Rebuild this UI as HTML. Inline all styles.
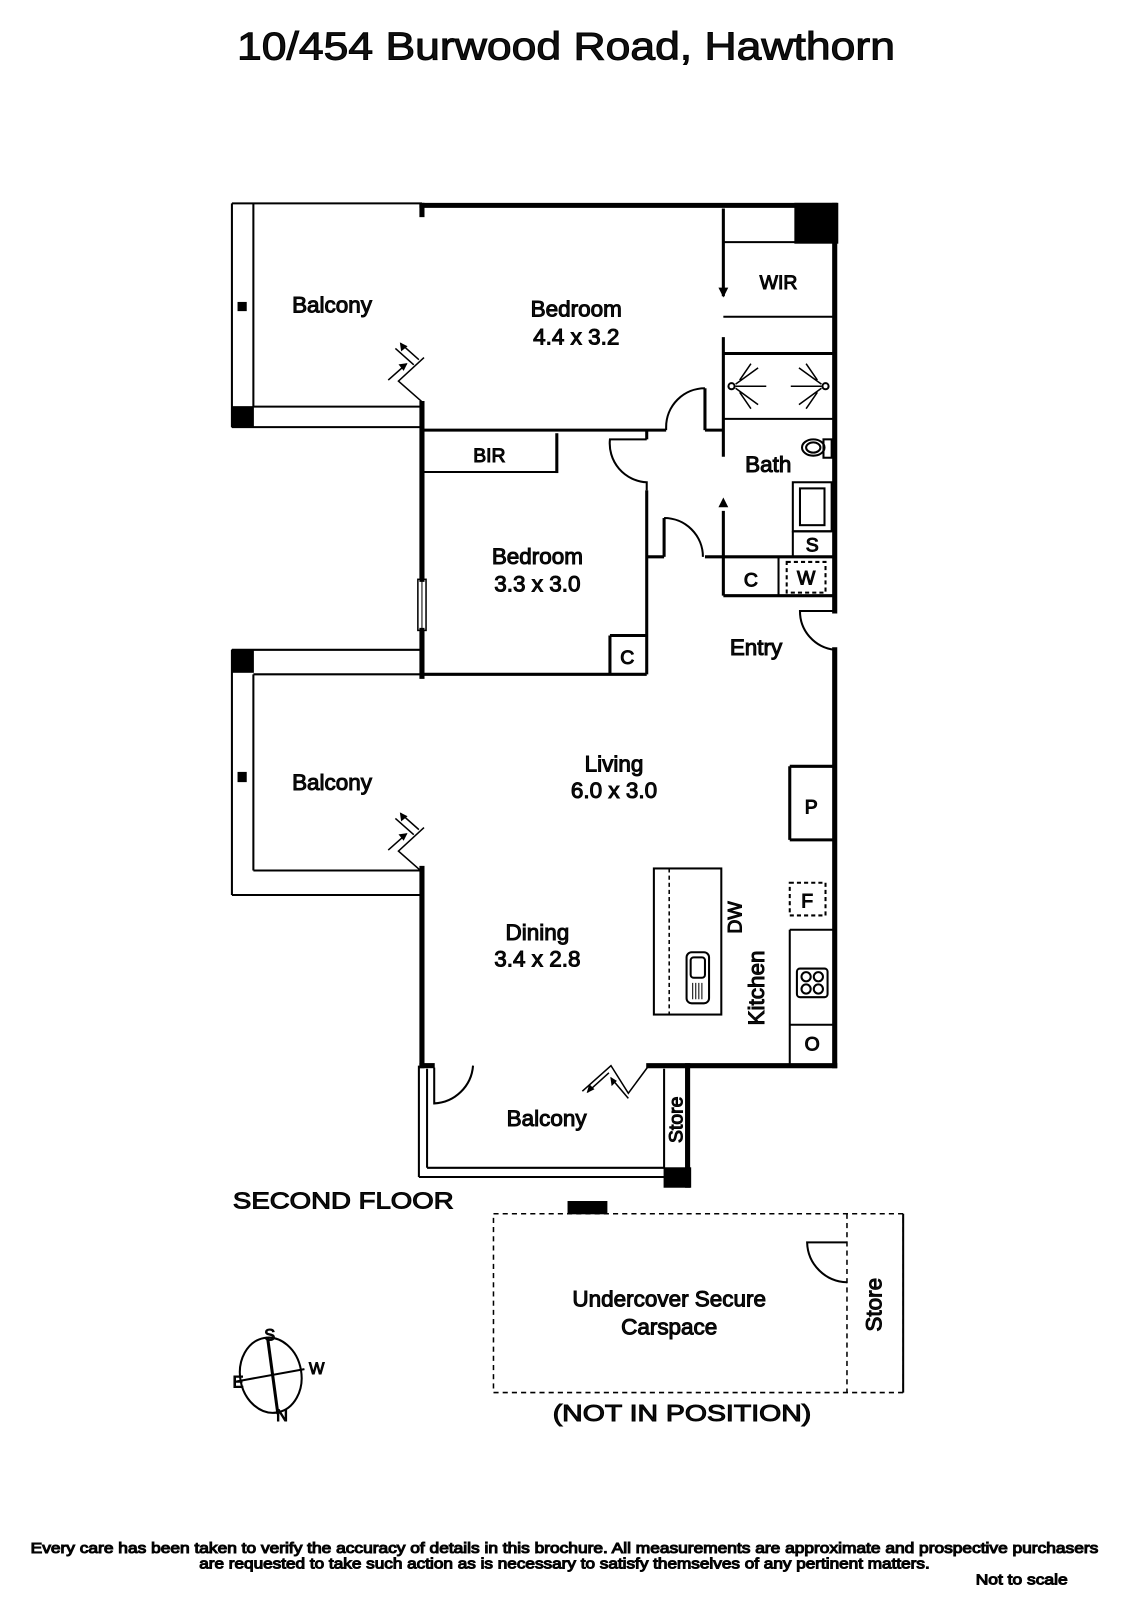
<!DOCTYPE html>
<html><head><meta charset="utf-8"><style>
html,body{margin:0;padding:0;background:#fff;}
svg{display:block;}
text{font-family:"Liberation Sans",sans-serif;fill:#111;}
</style></head><body>
<svg width="1131" height="1600" viewBox="0 0 1107 1566" xmlns="http://www.w3.org/2000/svg">
<g fill="none" stroke="#000">
<g stroke-width="2">
<line x1="227" y1="199" x2="413" y2="199"/>
<line x1="227" y1="199" x2="227" y2="418"/>
<line x1="248" y1="199" x2="248" y2="398"/>
<line x1="248" y1="398" x2="413" y2="398"/>
<line x1="227" y1="418" x2="413" y2="418"/>
</g>
<g stroke-width="5" stroke-linecap="square">
<line x1="413" y1="201" x2="817" y2="201"/>
<line x1="413" y1="201" x2="413" y2="210"/>
<line x1="817" y1="201" x2="817" y2="598"/>
<line x1="817" y1="636" x2="817" y2="1043"/>
<line x1="413" y1="395" x2="413" y2="567"/>
<line x1="413" y1="617" x2="413" y2="662"/>
<line x1="413" y1="850" x2="413" y2="1043"/>
<line x1="413" y1="1043" x2="423" y2="1043"/>
<line x1="635" y1="1043" x2="817" y2="1043"/>
<line x1="673" y1="1043" x2="673" y2="1160"/>
</g>
<g stroke-width="3">
<line x1="413" y1="421" x2="652" y2="421"/>
<line x1="690" y1="421" x2="708" y2="421"/>
<line x1="708" y1="204" x2="708" y2="290"/>
<line x1="708" y1="330" x2="708" y2="447"/>
<line x1="708" y1="500" x2="708" y2="583"/>
<line x1="708" y1="346" x2="815" y2="346"/>
<line x1="633" y1="421" x2="633" y2="430"/>
<line x1="633" y1="480" x2="633" y2="660"/>
<line x1="690" y1="380" x2="690" y2="421"/>
<line x1="650" y1="507" x2="650" y2="545"/>
<line x1="633" y1="545" x2="650" y2="545"/>
<line x1="690" y1="545" x2="815" y2="545"/>
<line x1="545" y1="424" x2="545" y2="463"/>
<line x1="413" y1="660" x2="633" y2="660"/>
<line x1="597" y1="622" x2="633" y2="622"/>
<line x1="597" y1="622" x2="597" y2="660"/>
<line x1="773" y1="750" x2="815" y2="750"/>
<line x1="773" y1="822" x2="815" y2="822"/>
<line x1="773" y1="750" x2="773" y2="822"/>
<line x1="708" y1="583" x2="815" y2="583"/>
</g>
<g stroke-width="2">
<line x1="708" y1="237" x2="778" y2="237"/>
<line x1="708" y1="310" x2="815" y2="310"/>
<line x1="708" y1="410" x2="815" y2="410"/>
<line x1="415" y1="462" x2="545" y2="462"/>
<line x1="762" y1="545" x2="762" y2="583"/>
<rect x="776" y="472" width="38" height="48"/>
<rect x="783" y="478" width="24" height="36"/>
<line x1="776" y1="520" x2="814" y2="520"/>
<line x1="776" y1="520" x2="776" y2="545"/>
<ellipse cx="796" cy="438" rx="11" ry="8"/>
<ellipse cx="796" cy="438" rx="7" ry="5"/>
<rect x="806" y="430" width="8" height="18"/>
<circle cx="716" cy="378" r="3"/><circle cx="808" cy="378" r="3"/>
<path d="M720 378H750M774 378H804M720 376L742 360M720 380L742 396M724 372L735 356M724 384L735 400M804 376L782 360M804 380L782 396M800 372L789 356M800 384L789 400" stroke-width="1.5"/>
<path d="M690 380 A38 38 0 0 0 652 418 V421"/>
<path d="M633 430 H597 A38 38 0 0 0 633 472 V480"/>
<path d="M650 507 A38 38 0 0 1 688 545"/>
<path d="M817 598 H783 A38 38 0 0 0 817 636"/>
<rect x="409" y="567" width="8" height="50" stroke-width="1.5"/>
<line x1="413" y1="567" x2="413" y2="617" stroke-width="1"/>
<line x1="227" y1="636" x2="413" y2="636"/>
<line x1="248" y1="660" x2="413" y2="660"/>
<line x1="227" y1="636" x2="227" y2="876"/>
<line x1="248" y1="660" x2="248" y2="852"/>
<line x1="248" y1="852" x2="413" y2="852"/>
<line x1="227" y1="876" x2="413" y2="876"/>
<g stroke-width="1.5">
<path d="M415 350 L390 373 L415 395"/>
<path d="M410 352 L392 336 M405 357 L387 341"/>
<path d="M380 372 L398 356"/>
<path d="M415 810 L390 833 L415 855"/>
<path d="M410 812 L392 796 M405 817 L387 801"/>
<path d="M380 832 L398 816"/>
<path d="M635 1043 L615 1070 L598 1043 L570 1068"/>
<path d="M596 1050 L575 1069"/>
<path d="M615 1075 L598 1055"/>
</g>
<rect x="773" y="864" width="35" height="32" stroke-dasharray="4 3"/>
<rect x="770" y="550" width="38" height="30" stroke-dasharray="4 3"/>
<line x1="773" y1="910" x2="815" y2="910"/>
<line x1="773" y1="910" x2="773" y2="1043"/>
<line x1="773" y1="1003" x2="815" y2="1003"/>
<rect x="780" y="948" width="30" height="28" rx="3"/>
<circle cx="789" cy="956" r="4.5"/><circle cx="801" cy="956" r="4.5"/><circle cx="789" cy="968" r="4.5"/><circle cx="801" cy="968" r="4.5"/>
<rect x="640" y="850" width="66" height="143"/>
<line x1="655" y1="850" x2="655" y2="993" stroke-dasharray="4 3" stroke-width="1.5"/>
<rect x="672" y="932" width="22" height="50" rx="5"/>
<rect x="676" y="937" width="14" height="20" rx="3"/>
<path d="M678 962V978M681 962V978M684 962V978M687 962V978" stroke-width="1"/>
<line x1="410" y1="1043" x2="410" y2="1152"/>
<line x1="418" y1="1046" x2="418" y2="1143"/>
<line x1="418" y1="1143" x2="650" y2="1143"/>
<line x1="410" y1="1152" x2="650" y2="1152"/>
<line x1="650" y1="1046" x2="650" y2="1143"/>
<path d="M425 1045 V1080 A40 40 0 0 0 463 1043"/>
<rect x="483" y="1188" width="401" height="175" stroke-dasharray="5 4" stroke-width="1.5"/>
<line x1="829" y1="1188" x2="829" y2="1363" stroke-dasharray="5 4" stroke-width="1.5"/>
<line x1="884" y1="1188" x2="884" y2="1363" stroke-width="2"/>
<path d="M829 1216 H790 A40 40 0 0 0 829 1255"/>
<ellipse cx="265" cy="1346" rx="30" ry="37" transform="rotate(-10 265 1346)"/>
<line x1="262" y1="1310" x2="272" y2="1384" stroke-width="3"/>
<line x1="232" y1="1352" x2="298" y2="1340"/>
</g>
<g fill="#000">
<path d="M708 290 L704 282 H712Z"/><path d="M708 488 L704 496 H712Z"/>
<path d="M392 336 l1 7 l5 -4Z"/>
<path d="M398 356 l-7 1 l4 5Z"/>
<path d="M392 796 l1 7 l5 -4Z"/>
<path d="M398 816 l-7 1 l4 5Z"/>
<path d="M575 1069 l2 -7 l4 4Z"/>
<path d="M598 1055 l1 7 l4 -4Z"/>
<rect x="227" y="398" width="21" height="20"/>
<rect x="233" y="296" width="8" height="8"/>
<rect x="778" y="199" width="42" height="39"/>
<rect x="227" y="636" width="21" height="22"/>
<rect x="233" y="756" width="8" height="9"/>
<rect x="650" y="1143" width="26" height="19"/>
<rect x="556" y="1176" width="38" height="12"/>
</g>
<text x="232" y="58" font-size="38" textLength="644" lengthAdjust="spacingAndGlyphs">10/454 Burwood Road, Hawthorn</text>
<g font-size="22" text-anchor="middle">
<text x="325" y="306">Balcony</text>
<text x="564" y="310">Bedroom</text><text x="564" y="337">4.4 x 3.2</text>
<text x="762" y="283" font-size="19">WIR</text>
<text x="479" y="452" font-size="19">BIR</text>
<text x="752" y="462">Bath</text>
<text x="795" y="540" font-size="19">S</text>
<text x="735" y="574" font-size="19">C</text>
<text x="789" y="572" font-size="19">W</text>
<text x="526" y="552">Bedroom</text><text x="526" y="579">3.3 x 3.0</text>
<text x="614" y="650" font-size="19">C</text>
<text x="740" y="641">Entry</text>
<text x="325" y="773">Balcony</text>
<text x="601" y="755">Living</text><text x="601" y="781">6.0 x 3.0</text>
<text x="794" y="796" font-size="19">P</text>
<text x="790" y="888" font-size="19">F</text>
<text x="526" y="920">Dining</text><text x="526" y="946">3.4 x 2.8</text>
<text x="795" y="1028" font-size="19">O</text>
<text x="535" y="1102">Balcony</text>
<text transform="translate(726 898) rotate(-90)" font-size="19">DW</text>
<text transform="translate(748 967) rotate(-90)">Kitchen</text>
<text transform="translate(668 1096) rotate(-90)" font-size="19">Store</text>
<text transform="translate(863 1277) rotate(-90)">Store</text>
<text x="655" y="1279">Undercover Secure</text>
<text x="655" y="1306">Carspace</text>
</g>
<text x="541" y="1391" font-size="23" textLength="253" lengthAdjust="spacingAndGlyphs">(NOT IN POSITION)</text>
<text x="228" y="1183" font-size="23" textLength="216" lengthAdjust="spacingAndGlyphs">SECOND FLOOR</text>
<g font-size="16" text-anchor="middle">
<text x="264" y="1312">S</text><text x="310" y="1345">W</text><text x="233" y="1358">E</text><text x="276" y="1391">N</text>
</g>
<g font-size="14">
<text x="30" y="1520" textLength="1045" lengthAdjust="spacingAndGlyphs">Every care has been taken to verify the accuracy of details in this brochure.  All measurements are approximate and prospective purchasers</text>
<text x="195" y="1535" textLength="715" lengthAdjust="spacingAndGlyphs">are requested to take such action as is necessary to satisfy themselves of any pertinent matters.</text>
<text x="955" y="1551" textLength="90" lengthAdjust="spacingAndGlyphs">Not to scale</text>
</g>
</svg>
</body></html>
